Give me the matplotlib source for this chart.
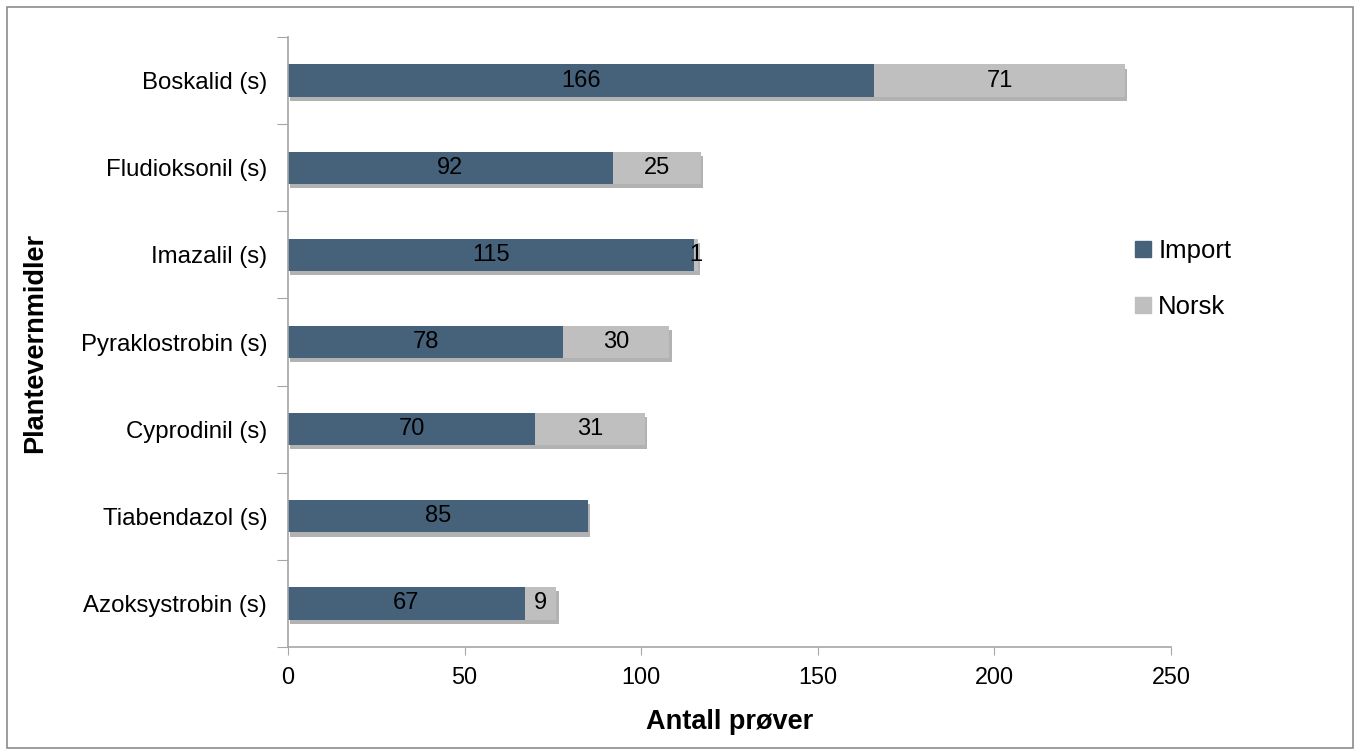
import matplotlib.pyplot as plt
import matplotlib.patheffects as pe
from matplotlib.patches import Rectangle, Patch
import numpy as np

plt.rcParams['font.family'] = ['Liberation Sans', 'DejaVu Sans']

stoffer = ["Boskalid (s)", "Fludioksonil (s)", "Imazalil (s)", "Pyraklostrobin (s)",
           "Cyprodinil (s)", "Tiabendazol (s)", "Azoksystrobin (s)"]
importert = [166, 92, 115, 78, 70, 85, 67]
norsk = [71, 25, 1, 30, 31, 0, 9]

farge_import = "#46617A"
farge_norsk = "#BFBFBF"
grå = "#A6A6A6"

fig = plt.figure(figsize=(13.6, 7.55), dpi=100)
ax = fig.add_axes([288 / 1360, 1 - 647 / 755, (1171 - 288) / 1360, (647 - 37) / 755])

y = np.arange(len(stoffer))[::-1]
skygge = [pe.withSimplePatchShadow(offset=(1.5, -3), shadow_rgbFace="black", alpha=0.3)]

b1 = ax.barh(y, importert, height=0.37, color=farge_import,
             path_effects=skygge, zorder=2)
b2 = ax.barh(y, norsk, left=importert, height=0.37, color=farge_norsk,
             path_effects=skygge, zorder=2)

ax.bar_label(b1, labels=[str(v) for v in importert], label_type="center", fontsize=17)
ax.bar_label(b2, labels=[str(v) if v else "" for v in norsk], label_type="center", fontsize=17)

ax.set_xlim(0, 250)
ax.set_ylim(-0.5, len(stoffer) - 0.5)
ax.set_xticks(range(0, 251, 50))
ax.tick_params(axis="x", labelsize=16.8, length=6, color=grå, pad=8)

# kategorinavn midt i hvert felt, tikkstreker på skillelinjene
ax.set_yticks(np.arange(-0.5, len(stoffer), 1.0))
ax.set_yticklabels([])
ax.tick_params(axis="y", which="major", length=8, color=grå)
ax.set_yticks(y, minor=True)
ax.set_yticklabels(stoffer, minor=True)
ax.tick_params(axis="y", which="minor", length=0, labelsize=17.3, pad=15)

for side in ["top", "right"]:
    ax.spines[side].set_visible(False)
for side in ["left", "bottom"]:
    ax.spines[side].set_color(grå)
    ax.spines[side].set_linewidth(1.2)

ax.set_xlabel("Antall prøver", fontsize=19.5, fontweight="bold", labelpad=14)
fig.text(35 / 1360, 1 - 343 / 755, "Plantevernmidler", rotation=90, fontsize=19.5,
         fontweight="bold", ha="center", va="center")

fig.legend(handles=[Patch(color=farge_import), Patch(color=farge_norsk)],
           labels=["Import", "Norsk"], loc="center left",
           bbox_to_anchor=(1112 / 1360, 1 - 279 / 755), frameon=False, fontsize=18.5,
           handlelength=0.6, handleheight=0.6, handletextpad=0.3, labelspacing=1.25)

fig.patches.append(Rectangle((7 / 1360, 7 / 755), 1346 / 1360, 741 / 755,
                             transform=fig.transFigure, fill=False,
                             edgecolor="#8C8C8C", linewidth=1.2))

fig.savefig("out.png", dpi=100)
